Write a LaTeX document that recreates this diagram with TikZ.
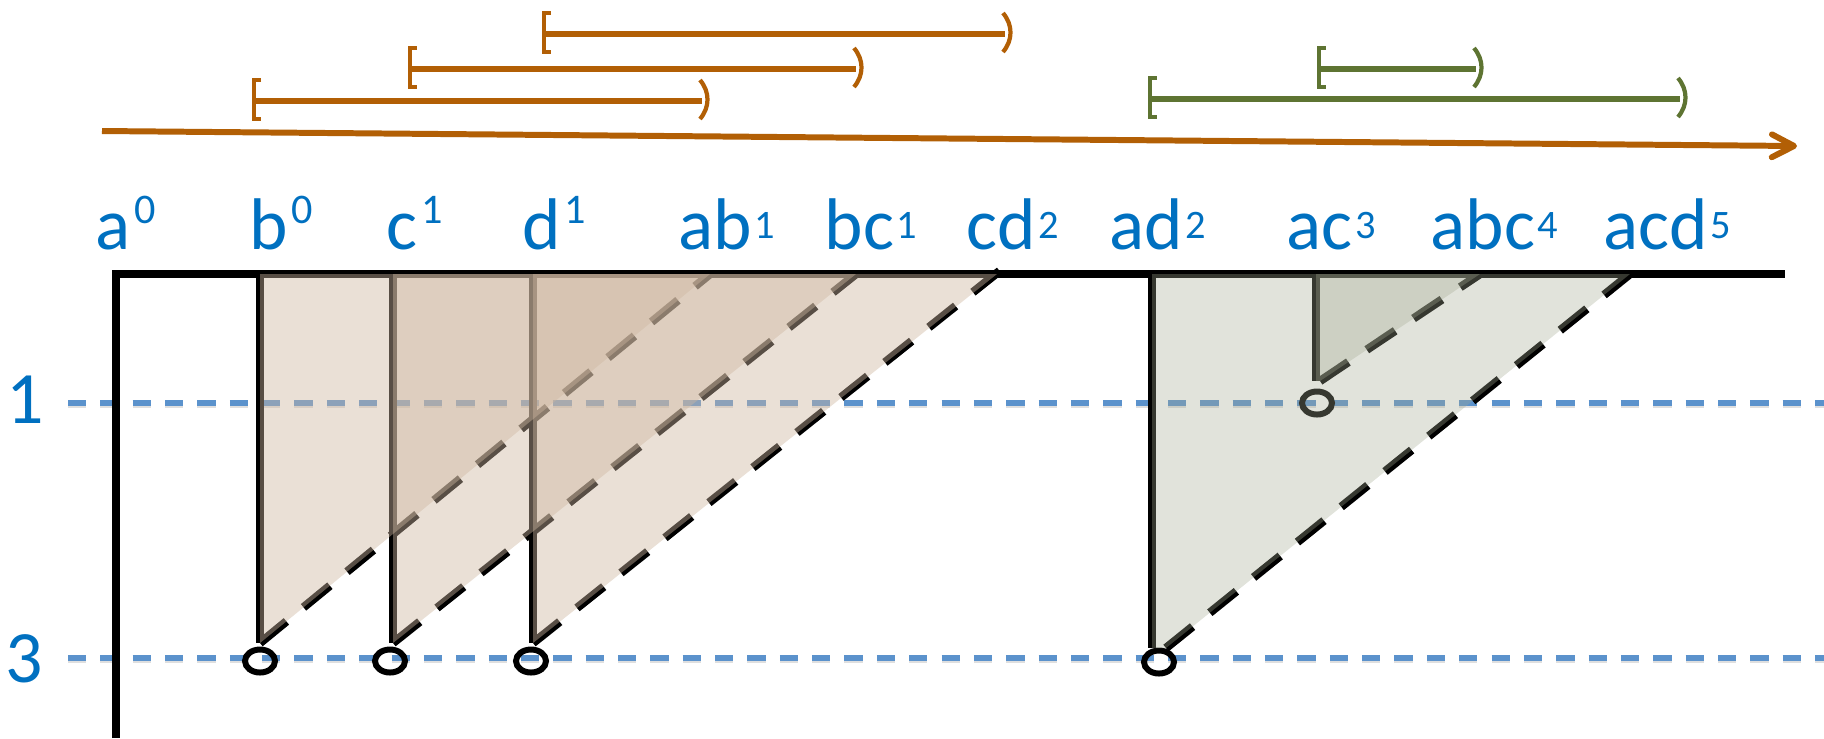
\documentclass[tikz,border=0pt]{standalone}
\usepackage{fontspec}
\setmainfont{Carlito}
\usetikzlibrary{arrows.meta,shapes.geometric}
\definecolor{lblue}{RGB}{0,112,192}
\definecolor{dblue}{RGB}{91,146,204}
\definecolor{orng}{RGB}{178,95,5}
\definecolor{olive}{RGB}{94,116,50}
\definecolor{tanfill}{RGB}{206,183,160}
\definecolor{grnfill}{RGB}{164,170,146}
\newcommand\supA[1]{\kern1pt\raisebox{7.2pt}{\fontsize{12}{13}\selectfont #1}}
\newcommand\supB[1]{\kern0.8pt\raisebox{3pt}{\fontsize{11.5}{12}\selectfont #1}}
\begin{document}
\begin{tikzpicture}[x=0.01cm,y=-0.01cm,
  lab/.style={text=lblue,font=\fontsize{20.8}{24}\selectfont,inner sep=0pt,anchor=base west},
  level/.style={draw=dblue,line width=1.6pt,dash pattern=on 5.2pt off 4pt},
  levelshadow/.style={draw=black!25,line width=1.6pt,dash pattern=on 5.2pt off 4pt,draw opacity=0.5},
  axisline/.style={draw=black,line width=2.1pt,line join=miter},
  stemline/.style={draw=black,line width=2.1pt},
  hyp/.style={draw=black,line width=2.4pt,dash pattern=on 9.7pt off 6.3pt},
  tanf/.style={fill=tanfill,fill opacity=0.43},
  grnf/.style={fill=grnfill,fill opacity=0.33},
  ring/.style={draw=black,line width=1.7pt,ellipse,inner sep=0pt,minimum width=0.30cm,minimum height=0.23cm},
  barline/.style={line width=1.6pt},
  brk/.style={line width=1.2pt,line cap=butt},
]
\useasboundingbox (0,0) rectangle (1824,738);

% level lines
\coordinate (l1s) at (68,403);  \coordinate (l1e) at (1824,403);
\coordinate (l3s) at (68,658);  \coordinate (l3e) at (1824,658);
\draw[levelshadow] ([yshift=-0.7pt]l1s) -- ([yshift=-0.7pt]l1e);
\draw[levelshadow] ([yshift=-0.7pt]l3s) -- ([yshift=-0.7pt]l3e);
\draw[level] (l1s) -- (l1e);
\draw[level] (l3s) -- (l3e);
\node[lab,font=\fontsize{21}{24}\selectfont] (n1) at (6,423) {1};
\node[lab,font=\fontsize{21}{24}\selectfont] (n3) at (5,682) {3};

% axes
\coordinate (axB) at (116,738);
\coordinate (axC) at (116,274);
\coordinate (axR) at (1785,274);
\draw[axisline] (axB) -- (axC) -- (axR);

% triangle geometry
\coordinate (bT) at (260,274); \coordinate (bB) at (260,643); \coordinate (bE) at (710,274);
\coordinate (cT) at (393,274); \coordinate (cB) at (393,643); \coordinate (cE) at (856,274);
\coordinate (dT) at (533,274); \coordinate (dB) at (533,643); \coordinate (dE) at (1002,269); \coordinate (dF) at (997,274);
\coordinate (adT) at (1152,274); \coordinate (adB) at (1152,648); \coordinate (adH) at (1166,648); \coordinate (adE) at (1630,274);
\coordinate (acT) at (1316,274); \coordinate (acB) at (1316,381); \coordinate (acH) at (1320,381); \coordinate (acE) at (1480,274);

% stems and hypotenuses
\draw[stemline] (bT) -- (bB);
\draw[hyp] (bB) -- (bE);
\draw[stemline] (cT) -- (cB);
\draw[hyp] (cB) -- (cE);
\draw[stemline] (dT) -- (dB);
\draw[hyp] (dB) -- (dE);
\draw[stemline] (adT) -- (adB);
\draw[hyp] (adH) -- (adE);
\draw[stemline] (acT) -- (acB);
\draw[hyp] (acH) -- (acE);

% rings
\node[ring] (rb) at (260,661) {};
\node[ring] (rc) at (390,661) {};
\node[ring] (rd) at (531,661) {};
\node[ring] (rad) at (1159,662) {};
\node[ring] (rac) at (1317,403) {};

% fills
\fill[tanf] (bT) -- (bE) -- (bB) -- cycle;
\fill[tanf] (cT) -- (cE) -- (cB) -- cycle;
\fill[tanf] (dT) -- (dF) -- (dB) -- cycle;
\fill[grnf] (adT) -- (adE) -- (adH) -- (adB) -- cycle;
\fill[grnf] (acT) -- (acE) -- (acH) -- (acB) -- cycle;

% labels
\node[lab] (la) at (95,249) {a\supA{0}};
\node[lab] (lb) at (249,249) {b\supA{0}};
\node[lab] (lc) at (386,249) {c\supA{1}};
\node[lab] (ld) at (522,249) {d\supA{1}};
\node[lab] (lab) at (678,249) {ab\supB{1}};
\node[lab] (lbc) at (824,249) {bc\supB{1}};
\node[lab] (lcd) at (966,249) {cd\supB{2}};
\node[lab] (lad) at (1109,249) {ad\supB{2}};
\node[lab] (lac) at (1286,249) {ac\supB{3}};
\node[lab] (labc) at (1430,249) {abc\supB{4}};
\node[lab] (lacd) at (1603,249) {acd\supB{5}};

% intervals
\coordinate (o1l) at (544,34);  \coordinate (o1r) at (1005,34);
\coordinate (o2l) at (410,69);  \coordinate (o2r) at (856,69);
\coordinate (o3l) at (254,101); \coordinate (o3r) at (702,101);
\coordinate (g1l) at (1319,69); \coordinate (g1r) at (1476,69);
\coordinate (g2l) at (1150,99); \coordinate (g2r) at (1680,99);
\foreach \l/\r/\c in {o1l/o1r/orng,o2l/o2r/orng,o3l/o3r/orng,g1l/g1r/olive,g2l/g2r/olive}{
  \draw[barline,draw=\c] (\l) -- (\r);
  \draw[brk,draw=\c] (\l) ++(7,-21) -- ++(-7,0) -- ++(0,39) -- ++(7,0);
  \draw[brk,draw=\c] (\r) ++(-2,-21) .. controls +(10,12) and +(10,-12) .. ++(0,39);
}

% time arrow
\coordinate (tS) at (102,131);
\coordinate (tE) at (1797,146);
\draw[orng,line width=1.7pt,-{Straight Barb[length=6.3pt,width=6.5pt,round]}] (tS) -- (tE);
\end{tikzpicture}
\end{document}
